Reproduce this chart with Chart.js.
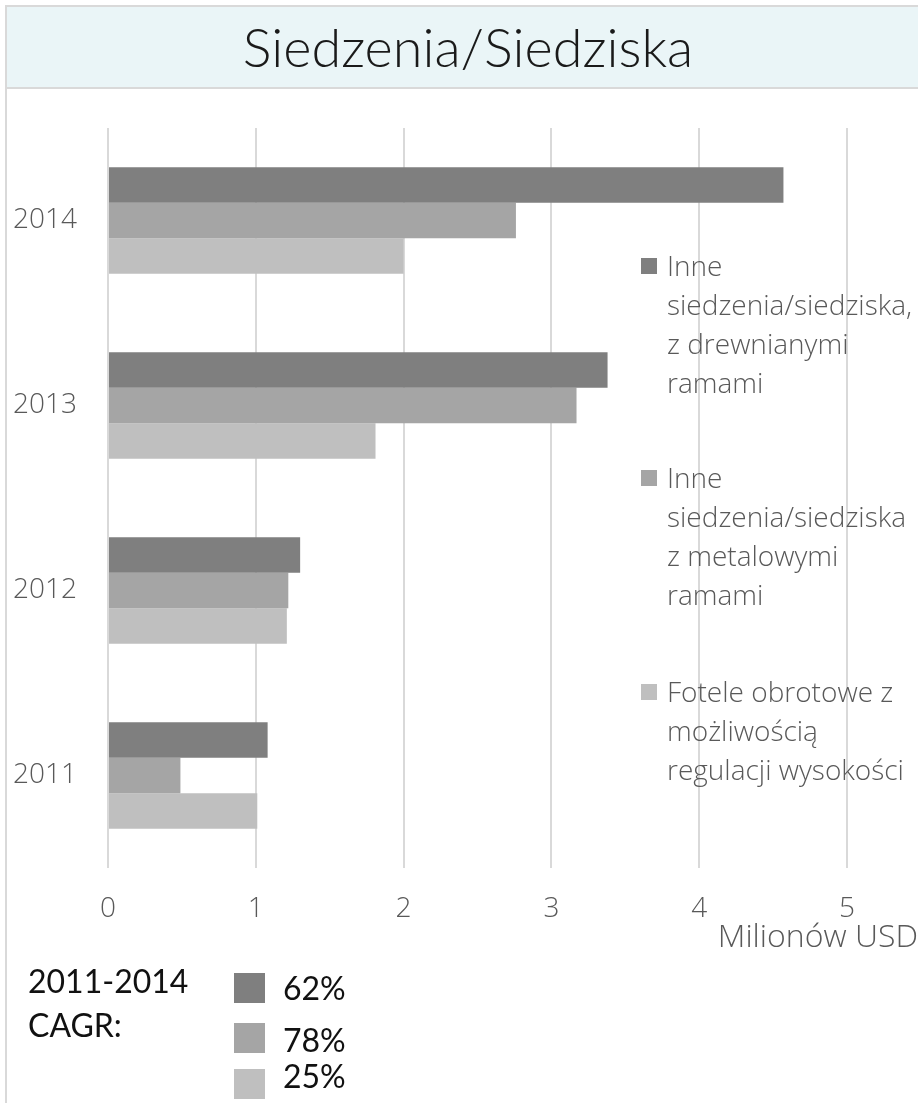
<!DOCTYPE html>
<html lang="pl">
<head>
    <meta charset="UTF-8">
    <title>Siedzenia/Siedziska</title>
    <script src="https://cdn.jsdelivr.net/npm/chart.js"></script>
    <style>
        body {
            margin: 0;
            padding: 0;
            background-color: #ffffff;
            width: 918px;
            height: 1103px;
            overflow: hidden;
            position: relative;
        }
        .frame {
            position: absolute;
            left: 5px;
            top: 5px;
            width: 940px;
            height: 1120px;
            border-left: 2px solid #d9d9d9;
        }
        .titlebar {
            position: absolute;
            left: 5px;
            top: 5px;
            width: 940px;
            height: 80px;
            background-color: #eaf5f7;
            border: 2px solid #d9d9d9;
        }
        .title {
            position: absolute;
            left: 0;
            top: 20px;
            width: 936px;
            text-align: center;
            font-family: Lato, "Open Sans", sans-serif;
            font-weight: 300;
            font-size: 54px;
            line-height: 54px;
            color: #1a1a1a;
            white-space: nowrap;
        }
        canvas {
            position: absolute;
            left: 0;
            top: 0;
        }
        .legend-entry {
            position: absolute;
            left: 641px;
        }
        .legend-entry .box {
            position: absolute;
            left: 0;
            top: 12px;
            width: 16px;
            height: 16px;
        }
        .legend-entry .text {
            position: absolute;
            left: 26px;
            top: 0;
            font-family: "Open Sans", sans-serif;
            font-weight: 300;
            font-size: 28px;
            line-height: 39px;
            color: #595959;
            white-space: nowrap;
        }
        .unit {
            position: absolute;
            right: 0;
            top: 919px;
            font-family: "Open Sans", sans-serif;
            font-weight: 300;
            font-size: 32px;
            line-height: 32px;
            color: #595959;
            white-space: nowrap;
        }
        .cagr {
            position: absolute;
            font-family: Lato, sans-serif;
            font-size: 32px;
            line-height: 32px;
            color: #111111;
            white-space: nowrap;
        }
        .cagr-box {
            position: absolute;
            left: 234px;
            width: 31px;
            height: 30px;
        }
    </style>
</head>
<body>
    <div class="frame"></div>
    <div class="titlebar"></div>
    <div class="title">Siedzenia/Siedziska</div>
    <canvas id="chart" width="918" height="1103"></canvas>
    <div id="legend"></div>
    <div class="unit">Milionów USD</div>
    <div id="cagr"></div>

    <script>
        // dane (mln USD)
        const years = ['2014', '2013', '2012', '2011'];
        const wooden = [4.57, 3.38, 1.30, 1.08];
        const metal = [2.76, 3.17, 1.22, 0.49];
        const swivel = [2.00, 1.81, 1.21, 1.01];
        const xTicks = [0, 1, 2, 3, 4, 5];

        const seriesLines = [
            ['Inne', 'siedzenia/siedziska,', 'z drewnianymi', 'ramami'],
            ['Inne', 'siedzenia/siedziska', 'z metalowymi', 'ramami'],
            ['Fotele obrotowe z', 'możliwością', 'regulacji wysokości']
        ];
        const colors = ['#7f7f7f', '#a5a5a5', '#bfbfbf'];
        const cagrLabel = ['2011-2014', 'CAGR:'];
        const cagrValues = ['62%', '78%', '25%'];

        const tickFont = { family: '"Open Sans", sans-serif', size: 28, weight: 300 };

        const ctx = document.getElementById('chart').getContext('2d');
        const chart = new Chart(ctx, {
            type: 'bar',
            data: {
                labels: years,
                datasets: [
                    { label: seriesLines[0].join(' '), data: wooden, backgroundColor: colors[0] },
                    { label: seriesLines[1].join(' '), data: metal, backgroundColor: colors[1] },
                    { label: seriesLines[2].join(' '), data: swivel, backgroundColor: colors[2] }
                ]
            },
            options: {
                indexAxis: 'y',
                responsive: false,
                animation: false,
                categoryPercentage: 0.576,
                barPercentage: 1.0,
                layout: {
                    padding: { top: 128, right: 71, bottom: 0, left: 0 }
                },
                scales: {
                    x: {
                        min: 0,
                        max: 5,
                        afterBuildTicks: (axis) => {
                            axis.ticks = xTicks.map(v => ({ value: v }));
                        },
                        afterFit: (axis) => { axis.height = 235; },
                        grid: { color: '#d9d9d9', lineWidth: 2, drawTicks: false },
                        border: { display: false },
                        ticks: { color: '#595959', font: tickFont, padding: 24 }
                    },
                    y: {
                        afterFit: (axis) => { axis.width = 108; },
                        grid: { display: false, drawTicks: false },
                        border: { display: false },
                        ticks: { color: '#595959', font: tickFont, padding: 31 }
                    }
                },
                plugins: {
                    legend: { display: false },
                    tooltip: { enabled: false }
                }
            }
        });

        // legenda po prawej (nad liniami siatki)
        const legendTops = [246, 458, 672];
        const legend = document.getElementById('legend');
        seriesLines.forEach((lines, i) => {
            const entry = document.createElement('div');
            entry.className = 'legend-entry';
            entry.style.top = legendTops[i] + 'px';
            entry.innerHTML = '<div class="box" style="background:' + colors[i] + '"></div>' +
                '<div class="text">' + lines.join('<br>') + '</div>';
            legend.appendChild(entry);
        });

        // CAGR pod wykresem
        const cagr = document.getElementById('cagr');
        const labelTops = [965, 1009];
        cagrLabel.forEach((t, i) => {
            const d = document.createElement('div');
            d.className = 'cagr';
            d.style.left = '28px';
            d.style.top = labelTops[i] + 'px';
            d.textContent = t;
            cagr.appendChild(d);
        });
        const boxTops = [973, 1023, 1069];
        const valueTops = [972, 1024, 1060];
        cagrValues.forEach((v, i) => {
            const b = document.createElement('div');
            b.className = 'cagr-box';
            b.style.top = boxTops[i] + 'px';
            b.style.background = colors[i];
            cagr.appendChild(b);
            const t = document.createElement('div');
            t.className = 'cagr';
            t.style.left = '283px';
            t.style.top = valueTops[i] + 'px';
            t.textContent = v;
            cagr.appendChild(t);
        });
    </script>
</body>
</html>
